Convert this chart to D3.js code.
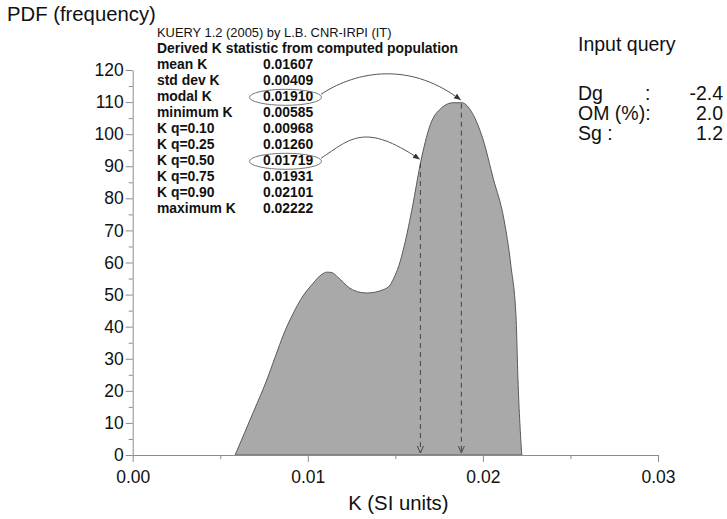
<!DOCTYPE html>
<html>
<head>
<meta charset="utf-8">
<script src="https://cdn.jsdelivr.net/npm/d3@7"></script>
<style>
  body { margin: 0; background: #fff; }
  svg { display: block; font-family: "Liberation Sans", Arial, sans-serif; }
</style>
</head>
<body>
<div id="chart"></div>
<script>
const width = 727, height = 519;
const margin = { top: 70, right: 69, bottom: 64, left: 132.7 };

// PDF curve: K (SI units) and frequency
const kValues = [0.00585, 0.0069, 0.0077, 0.0080, 0.0088, 0.0092, 0.0096, 0.0103, 0.0108, 0.0111,
    0.0114, 0.0117, 0.0124, 0.0130, 0.0134, 0.0143, 0.0147, 0.0149, 0.0152, 0.0155,
    0.0160, 0.0164, 0.0170, 0.0176, 0.0183, 0.0188, 0.0194, 0.0200, 0.0206, 0.0212,
    0.0216, 0.0219, 0.0220, 0.02222];
const pdfValues = [0, 13.5, 24, 28.5, 40, 44.5, 48.5, 53.5, 56.3, 57,
    56.8, 55.5, 52, 50.7, 50.5, 51.5, 53, 55, 59, 65,
    78, 90, 103, 108, 109.8, 109.8, 106.5, 98.5, 86, 73.5,
    59, 42, 24, 0];

// dashed markers (q=0.50 and modal) as drawn
const markerK = [0.01643, 0.01877];
const markerTop = [91, 109.5];

const xTicks = [0, 0.01, 0.02, 0.03];
const xMinor = [0.005, 0.015, 0.025];
const yTicks = [0, 10, 20, 30, 40, 50, 60, 70, 80, 90, 100, 110, 120];
const yMinor = [5, 15, 25, 35, 45, 55, 65, 75, 85, 95, 105, 115];

const headerLines = ["KUERY 1.2 (2005) by L.B. CNR-IRPI (IT)", "Derived K statistic from computed population"];
const statLabels = ["mean K", "std dev K", "modal K", "minimum K", "K q=0.10", "K q=0.25",
    "K q=0.50", "K q=0.75", "K q=0.90", "maximum K"];
const statValues = ["0.01607", "0.00409", "0.01910", "0.00585", "0.00968", "0.01260",
    "0.01719", "0.01931", "0.02101", "0.02222"];

const queryLabels = ["Dg", "OM (%):", "Sg :"];
const queryColons = [":", "", ""];
const queryValues = ["-2.4", "2.0", "1.2"];

const data = kValues.map((k, i) => ({ k, v: pdfValues[i] }));

const svg = d3.select("#chart").append("svg")
    .attr("width", width)
    .attr("height", height);

const x = d3.scaleLinear().domain([0, 0.03]).range([margin.left, width - margin.right]);
const y = d3.scaleLinear().domain([0, 120]).range([height - margin.bottom, margin.top]);

const axisColor = "#8c8c8c";

// filled PDF
const area = d3.area()
    .x(d => x(d.k))
    .y0(y(0))
    .y1(d => y(d.v))
    .curve(d3.curveMonotoneX);

svg.append("path")
    .datum(data)
    .attr("d", area)
    .attr("fill", "#a9a9a9")
    .attr("stroke", "#5a5a5a")
    .attr("stroke-width", 1);

// dashed lines with open arrow at the bottom
markerK.forEach((k, i) => {
    const px = x(k);
    svg.append("line")
        .attr("x1", px).attr("x2", px)
        .attr("y1", y(markerTop[i])).attr("y2", y(0) - 2)
        .attr("stroke", "#444")
        .attr("stroke-dasharray", "5,4")
        .attr("stroke-width", 1);
    svg.append("path")
        .attr("d", `M${px - 3},${y(0) - 9} L${px},${y(0) - 2} L${px + 3},${y(0) - 9}`)
        .attr("fill", "none")
        .attr("stroke", "#444")
        .attr("stroke-width", 1);
});

// axes
const xAxis = svg.append("g")
    .attr("transform", `translate(0,${y(0)})`)
    .call(d3.axisBottom(x).tickValues(xTicks).tickFormat(d3.format(".2f"))
        .tickSize(7).tickSizeOuter(0).tickPadding(9));
svg.append("g")
    .attr("transform", `translate(0,${y(0)})`)
    .call(d3.axisBottom(x).tickValues(xMinor).tickFormat("").tickSize(4).tickSizeOuter(0))
    .select(".domain").remove();

const yAxis = svg.append("g")
    .attr("transform", `translate(${x(0)},0)`)
    .call(d3.axisLeft(y).tickValues(yTicks).tickSize(7).tickSizeOuter(0).tickPadding(2));
svg.append("g")
    .attr("transform", `translate(${x(0)},0)`)
    .call(d3.axisLeft(y).tickValues(yMinor).tickFormat("").tickSize(4).tickSizeOuter(0))
    .select(".domain").remove();

svg.selectAll(".domain, .tick line").attr("stroke", axisColor);
xAxis.selectAll("text").attr("font-size", 17.5).attr("fill", "#111");
yAxis.selectAll("text").attr("font-size", 17.5).attr("fill", "#111");
svg.selectAll("g").attr("font-family", null);

// axis titles
svg.append("text")
    .attr("x", 7).attr("y", 21)
    .attr("font-size", 20.3)
    .attr("fill", "#111")
    .text("PDF (frequency)");

svg.append("text")
    .attr("x", x(0.015) + 3).attr("y", 510)
    .attr("text-anchor", "middle")
    .attr("font-size", 20.3)
    .attr("fill", "#111")
    .text("K (SI units)");

// statistics block
const statX = 157, valX = 263, firstLine = 37.3, lineH = 16;
svg.append("text")
    .attr("x", statX).attr("y", firstLine)
    .attr("font-size", 12.9)
    .attr("fill", "#111")
    .text(headerLines[0]);
svg.append("text")
    .attr("x", statX).attr("y", firstLine + lineH)
    .attr("font-size", 13.9)
    .attr("font-weight", "bold")
    .attr("fill", "#111")
    .text(headerLines[1]);

statLabels.forEach((lab, i) => {
    const by = firstLine + lineH * (i + 2);
    svg.append("text")
        .attr("x", statX).attr("y", by)
        .attr("font-size", 13.9).attr("font-weight", "bold").attr("fill", "#111")
        .text(lab);
    svg.append("text")
        .attr("x", valX).attr("y", by)
        .attr("font-size", 13.9).attr("font-weight", "bold").attr("fill", "#111")
        .text(statValues[i]);
});

// circled values and curved arrows to the dashed lines
const circled = [2, 6];
const arrowTargets = [1, 0];

svg.append("defs").append("marker")
    .attr("id", "head")
    .attr("viewBox", "0 0 10 10")
    .attr("refX", 9).attr("refY", 5)
    .attr("markerWidth", 7).attr("markerHeight", 7)
    .attr("orient", "auto")
    .append("path")
    .attr("d", "M0,1 L10,5 L0,9 Z")
    .attr("fill", "#333");

circled.forEach((idx, j) => {
    const cy = firstLine + lineH * (idx + 2) - 4;
    svg.append("ellipse")
        .attr("cx", 285.5).attr("cy", cy)
        .attr("rx", 36).attr("ry", 8)
        .attr("fill", "none")
        .attr("stroke", "#777")
        .attr("stroke-width", 1);

    const mi = arrowTargets[j];
    const ex = x(markerK[mi]) - 1, ey = y(markerTop[mi]) - 4;
    const sx = 321, sy = cy - 3;
    svg.append("path")
        .attr("d", `M${sx},${sy} C${sx + 30},${sy - 20} ${ex - 55},${sy - 36} ${ex},${ey}`)
        .attr("fill", "none")
        .attr("stroke", "#555")
        .attr("stroke-width", 1)
        .attr("marker-end", "url(#head)");
});

// input query box
const qFont = 19.5;
svg.append("text")
    .attr("x", 578).attr("y", 50.7)
    .attr("font-size", qFont).attr("fill", "#111")
    .text("Input query");

queryLabels.forEach((lab, i) => {
    const by = 100 + 20 * i;
    svg.append("text")
        .attr("x", 578).attr("y", by)
        .attr("font-size", qFont).attr("fill", "#111")
        .text(lab);
    if (queryColons[i]) {
        svg.append("text")
            .attr("x", 645).attr("y", by)
            .attr("font-size", qFont).attr("fill", "#111")
            .text(queryColons[i]);
    }
    svg.append("text")
        .attr("x", 723).attr("y", by)
        .attr("text-anchor", "end")
        .attr("font-size", qFont).attr("fill", "#111")
        .text(queryValues[i]);
});
</script>
</body>
</html>
